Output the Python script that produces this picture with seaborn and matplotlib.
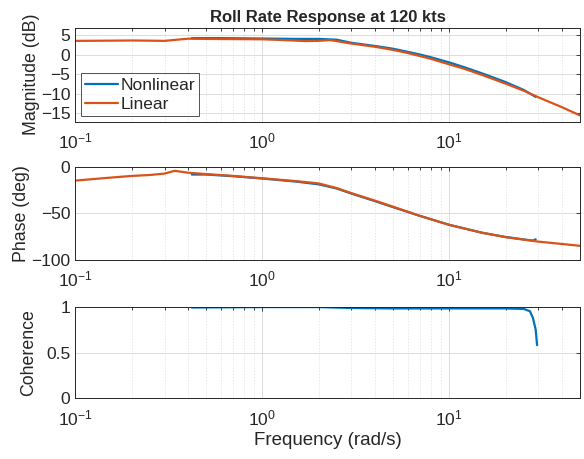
import numpy as np
import pandas as pd
import matplotlib
matplotlib.use("Agg")
import matplotlib.pyplot as plt
import seaborn as sns
from matplotlib.ticker import LogLocator, NullFormatter

sns.set_theme(style="white")
plt.rcParams['font.family'] = ['Liberation Sans', 'DejaVu Sans']
plt.rcParams['mathtext.fontset'] = 'custom'
plt.rcParams['mathtext.rm'] = 'Liberation Sans'
plt.rcParams['mathtext.it'] = 'Liberation Sans'

# ---- data ----
lin_freq = [0.1, 0.15, 0.2, 0.25, 0.3, 0.35, 0.4, 0.5, 0.7, 1.0, 1.3, 1.7, 2.0, 2.3, 2.6,
            3.0, 4.0, 5.0, 6.0, 7.0, 8.0, 10, 12, 15, 20, 25, 30, 40, 50]
lin_mag = [3.5, 3.55, 3.6, 3.55, 3.5, 3.8, 4.05, 4.0, 3.95, 3.9, 3.7, 3.45, 3.5, 3.7, 3.3,
           2.8, 2.0, 1.2, 0.4, -0.4, -1.1, -2.5, -3.6, -5.2, -7.4, -9.2, -10.9, -13.4, -15.5]

nl_freq = [0.42, 0.6, 1.0, 1.5, 2.0, 2.5, 3.0, 4.0, 5.0, 6.0, 7.0, 8.0, 10, 12, 15, 20, 25, 29]
nl_mag = [4.2, 4.2, 4.1, 4.0, 4.0, 3.8, 3.0, 2.2, 1.5, 0.7, 0.0, -0.7, -2.0, -3.2, -4.8, -7.0, -9.0, -10.8]

lin_ph_freq = [0.1, 0.15, 0.2, 0.25, 0.3, 0.34, 0.4, 0.5, 0.7, 1.0, 1.5, 2.0, 2.5, 3.0, 4.0,
               5.0, 7.0, 10, 15, 20, 30, 40, 50]
lin_phase = [-15, -12, -10, -9, -7.5, -4.5, -6.5, -8, -10, -12.5, -15.5, -18, -23, -28.5, -36.5,
             -43, -53, -62.5, -71, -75.7, -80.5, -83, -85]

nl_ph_freq = [0.42, 0.5, 0.7, 1.0, 1.5, 2.0, 2.5, 3.0, 4.0, 5.0, 7.0, 10, 15, 20, 28, 29]
nl_phase = [-8.5, -8.5, -10.3, -12.8, -16, -19, -23.5, -29, -37, -43.5, -53, -62.5, -71, -75.5, -79.5, -78]

coh_freq = [0.42, 1.0, 2.0, 3.0, 5.0, 10, 20, 25, 27, 28, 29, 29.5]
coh = [0.99, 0.995, 0.995, 0.985, 0.98, 0.98, 0.98, 0.975, 0.95, 0.88, 0.75, 0.58]

BLUE = '#0072BD'
ORANGE = '#D95319'
EDGE = '#262626'

fig = plt.figure(figsize=(5.84, 4.59), dpi=100)
left, width = 0.129, 0.864
ax1 = fig.add_axes([left, 0.735, width, 0.205])
ax2 = fig.add_axes([left, 0.434, width, 0.203])
ax3 = fig.add_axes([left, 0.132, width, 0.200])

def style(ax, ylim, yticks):
    ax.set_xscale('log')
    ax.set_xlim(0.1, 50)
    ax.set_ylim(*ylim)
    ax.set_yticks(yticks)
    ax.xaxis.set_major_locator(LogLocator(base=10, numticks=10))
    ax.xaxis.set_minor_locator(LogLocator(base=10, subs=np.arange(2, 10), numticks=20))
    ax.xaxis.set_minor_formatter(NullFormatter())
    ax.grid(True, which='major', axis='both', color='#dcdcdc', lw=0.7, ls='-')
    ax.grid(True, which='minor', axis='x', color='#e0e0e0', lw=0.6, ls=(0, (1.5, 2)))
    ax.set_axisbelow(True)
    for s in ax.spines.values():
        s.set_color(EDGE)
        s.set_linewidth(0.7)
    ax.tick_params(axis='both', which='both', direction='in', top=True, right=True,
                   labelsize=12.5, colors=EDGE, length=3, width=0.6)
    ax.tick_params(axis='both', which='minor', length=1.8)
    ax.tick_params(axis='x', pad=7)

df_mag = pd.concat([
    pd.DataFrame({'f': nl_freq, 'v': nl_mag, 's': 'Nonlinear'}),
    pd.DataFrame({'f': lin_freq, 'v': lin_mag, 's': 'Linear'}),
])
df_ph = pd.concat([
    pd.DataFrame({'f': nl_ph_freq, 'v': nl_phase, 's': 'Nonlinear'}),
    pd.DataFrame({'f': lin_ph_freq, 'v': lin_phase, 's': 'Linear'}),
])
df_coh = pd.DataFrame({'f': coh_freq, 'v': coh})

pal = {'Nonlinear': BLUE, 'Linear': ORANGE}
sns.lineplot(data=df_mag, x='f', y='v', hue='s', palette=pal, ax=ax1, lw=1.6,
             estimator=None, sort=False)
sns.lineplot(data=df_ph, x='f', y='v', hue='s', palette=pal, ax=ax2, lw=1.6,
             estimator=None, sort=False, legend=False)
sns.lineplot(data=df_coh, x='f', y='v', color=BLUE, ax=ax3, lw=1.6,
             estimator=None, sort=False)

style(ax1, (-17.1, 6.9), [-15, -10, -5, 0, 5])
style(ax2, (-100, 0), [-100, -50, 0])
style(ax3, (0, 1), [0, 0.5, 1])

ax1.set_ylabel('Magnitude (dB)', fontsize=12.8, color=EDGE)
ax2.set_ylabel('Phase (deg)', fontsize=12.8, color=EDGE)
ax3.set_ylabel('Coherence', fontsize=12.8, color=EDGE)
for ax in (ax1, ax2):
    ax.set_xlabel('')
ax3.set_xlabel('Frequency (rad/s)', fontsize=13.5, color=EDGE, labelpad=3)
ax3.set_yticklabels(['0', '0.5', '1'])
ax1.yaxis.set_label_coords(-0.071, 0.5)
ax2.yaxis.set_label_coords(-0.089, 0.5)
ax3.yaxis.set_label_coords(-0.075, 0.5)

ax1.set_title('Roll Rate Response at 120 kts', fontsize=12, fontweight='bold', pad=4)

leg = ax1.legend(loc='lower left', fontsize=12.5, frameon=True, fancybox=False,
                 handlelength=1.9, handletextpad=0.15, borderpad=0.25, labelspacing=0.25,
                 borderaxespad=0.3)
leg.get_frame().set_edgecolor(EDGE)
leg.get_frame().set_linewidth(0.7)
leg.set_title(None)

fig.savefig('out.png', dpi=100)
